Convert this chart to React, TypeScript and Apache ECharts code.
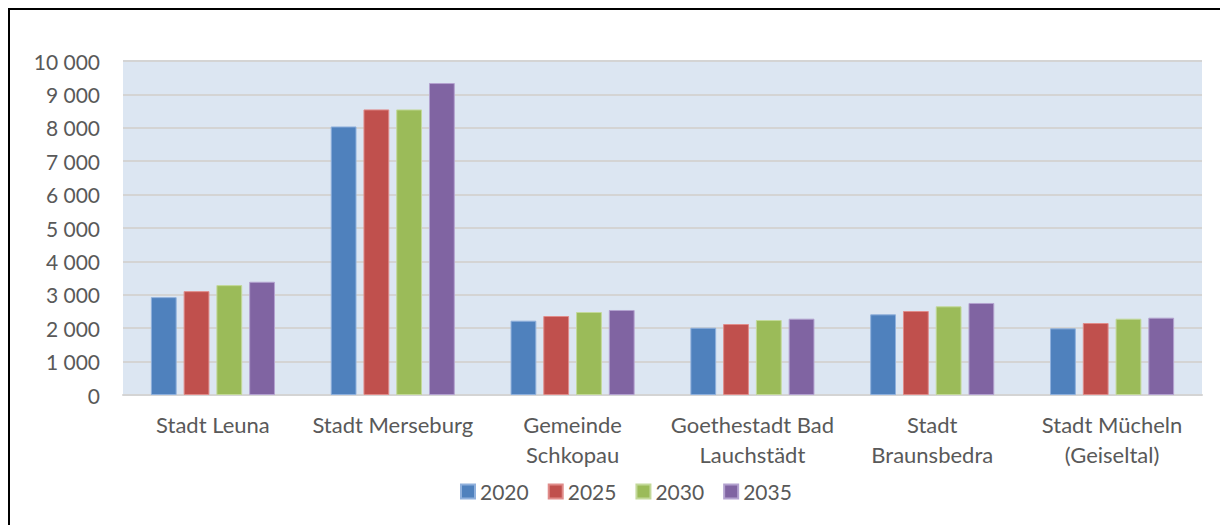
import React, { useEffect, useRef } from "react";
import * as echarts from "echarts";

const categories = [
  "Stadt Leuna",
  "Stadt Merseburg",
  "Gemeinde\nSchkopau",
  "Goethestadt Bad\nLauchstädt",
  "Stadt\nBraunsbedra",
  "Stadt Mücheln\n(Geiseltal)",
];
const seriesNames = ["2020", "2025", "2030", "2035"];
const values2020 = [2930, 8040, 2225, 2015, 2415, 1995];
const values2025 = [3110, 8550, 2365, 2125, 2515, 2155];
const values2030 = [3290, 8550, 2485, 2245, 2655, 2285];
const values2035 = [3390, 9340, 2545, 2285, 2755, 2315];
const colors = ["#4f81bd", "#c0504d", "#9bbb59", "#8064a2"];
const borders = ["#8fb0dc", "#e08c8a", "#c3d99a", "#b3a2cf"];

const FONT = "Lato, 'Open Sans', sans-serif";

export default function App() {
  const ref = useRef<HTMLDivElement>(null);
  useEffect(() => {
    if (!ref.current) return;
    const chart = echarts.init(ref.current, undefined, { renderer: "svg" });
    const data = [values2020, values2025, values2030, values2035];
    chart.setOption({
      animation: false,
      backgroundColor: "#ffffff",
      textStyle: { fontFamily: FONT },
      graphic: [
        {
          type: "rect",
          shape: { x: 9, y: 9, width: 1230, height: 540 },
          style: { fill: "none", stroke: "#000000", lineWidth: 2 },
          silent: true,
        },
      ],
      grid: { left: 123, right: 18, top: 61, bottom: 130, containLabel: false, show: true, backgroundColor: "#dce6f2", borderWidth: 0 },
      legend: {
        data: seriesNames,
        left: 455,
        top: 476,
        itemWidth: 14,
        itemHeight: 14,
        itemGap: 19,
        icon: "rect",
        textStyle: { fontSize: 21, color: "#595959", fontFamily: FONT },
      },
      xAxis: {
        type: "category",
        data: categories,
        axisLine: { lineStyle: { color: "#d4d4d4", width: 2 } },
        axisTick: { show: false },
        axisLabel: { fontSize: 22, color: "#595959", lineHeight: 30, margin: 14, interval: 0, fontFamily: FONT },
      },
      yAxis: {
        type: "value",
        min: 0,
        max: 10000,
        interval: 1000,
        axisLine: { show: false },
        axisTick: { show: false },
        splitLine: { lineStyle: { color: "#d4d4d4", width: 2 } },
        axisLabel: {
          fontSize: 21,
          color: "#595959",
          margin: 23,
          fontFamily: FONT,
          formatter: (v: number) => {
            const s = String(v);
            return s.replace(/\B(?=(\d{3})+(?!\d))/g, " ");
          },
        },
      },
      series: seriesNames.map((name, i) => ({
        name,
        type: "bar",
        data: data[i],
        barGap: "27%",
        barCategoryGap: "31%",
        itemStyle: { color: colors[i], borderColor: borders[i], borderWidth: 1 },
      })),
    });
    return () => chart.dispose();
  }, []);
  return <div ref={ref} style={{ position: "fixed", left: 0, top: 0, width: 1220, height: 525 }} />;
}
